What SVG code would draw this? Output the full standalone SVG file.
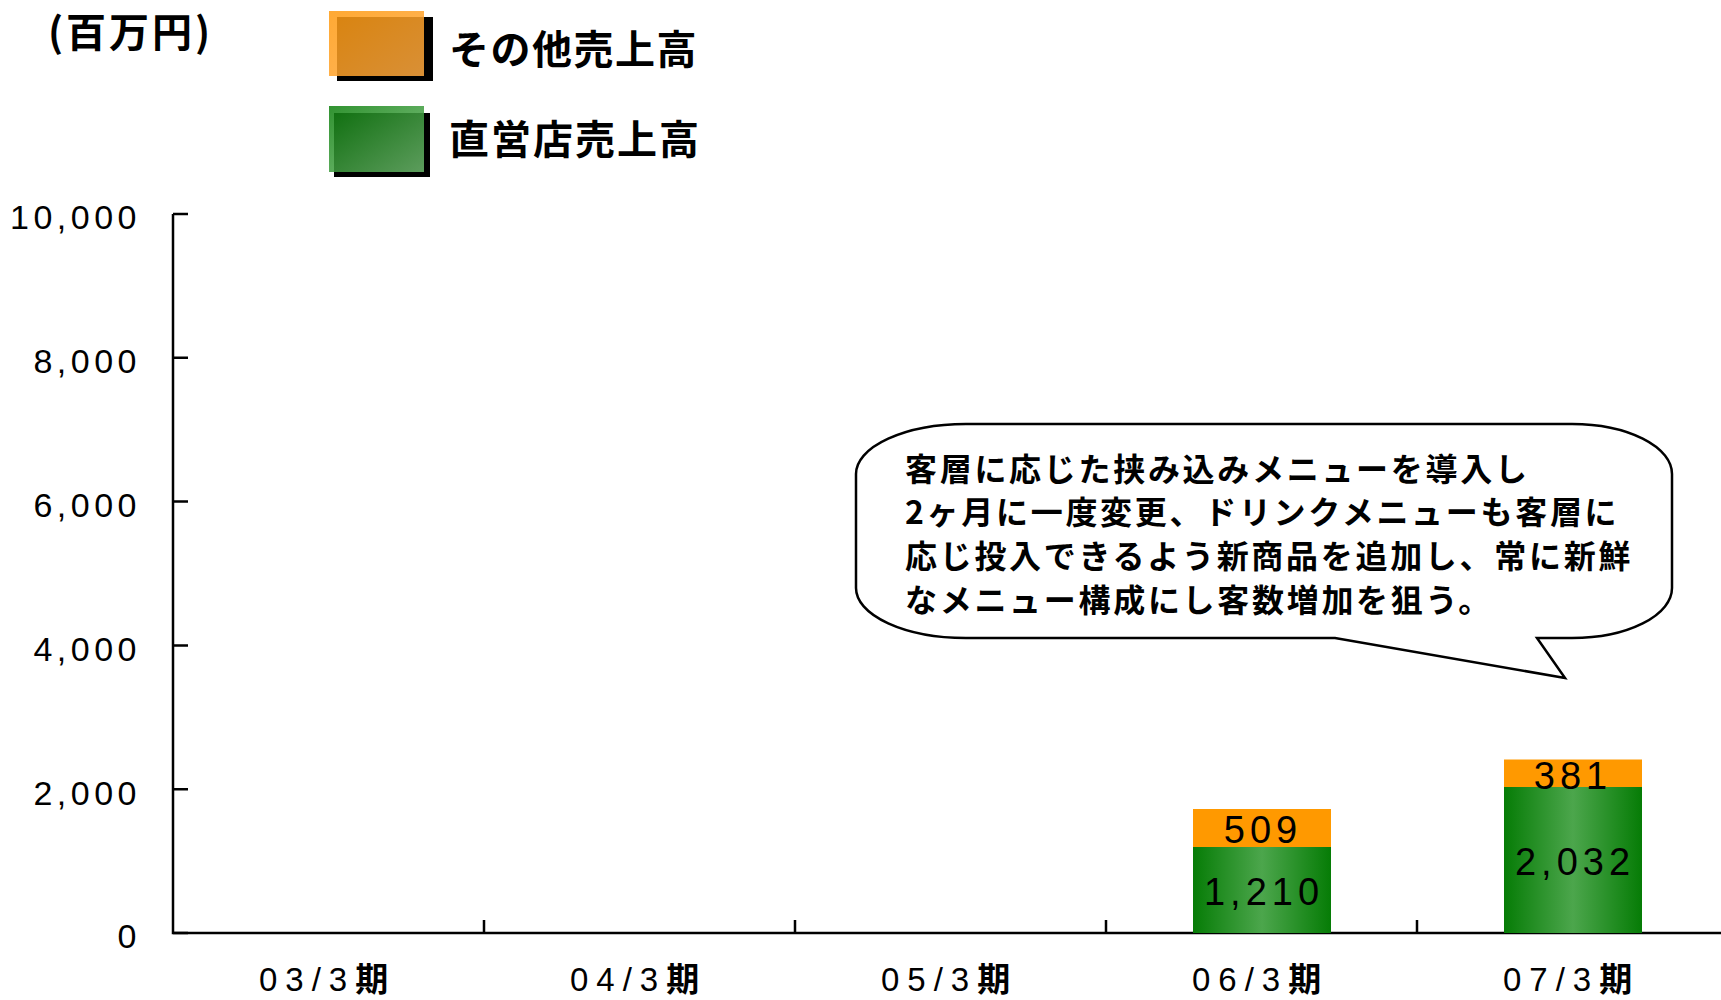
<svg xmlns="http://www.w3.org/2000/svg" width="1721" height="1000" viewBox="0 0 1721 1000">
<style>
.cjk{font-family:"Noto Sans CJK JP","Noto Sans CJK SC",sans-serif;font-weight:bold;fill:#000}
.num{font-family:"Liberation Sans",Arial,sans-serif;fill:#000}
.ylab{font-size:34px;letter-spacing:4.5px;text-anchor:end}
.val{font-size:38px;letter-spacing:5px;text-anchor:middle}
.xlab{font-size:33px;letter-spacing:8px}
.axis{stroke:#000;stroke-width:2.5;fill:none}
.orange{fill:#FF9900}
.green{fill:url(#gbar)}
</style>
<defs>
<linearGradient id="gbar" x1="0" y1="0" x2="1" y2="0">
<stop offset="0" stop-color="#067C06"/>
<stop offset="0.5" stop-color="#4CA64C"/>
<stop offset="1" stop-color="#067C06"/>
</linearGradient>
<linearGradient id="lo" x1="0" y1="0" x2="1" y2="1">
<stop offset="0" stop-color="#FF9A10"/>
<stop offset="1" stop-color="#FFA940"/>
</linearGradient>
<linearGradient id="lg" x1="0" y1="0" x2="1" y2="1">
<stop offset="0" stop-color="#0D800D"/>
<stop offset="1" stop-color="#6DB86D"/>
</linearGradient>
</defs>

<g id="unit">
<text class="cjk" x="48" y="47" font-size="40" letter-spacing="3">(百万円)</text>
</g>

<g id="legend-other">
<rect x="337" y="17" width="96" height="64" fill="#000"/>
<rect x="329" y="11" width="95" height="65" fill="url(#lo)" fill-opacity="0.85"/>
<text class="cjk" x="449" y="64" font-size="40" letter-spacing="1.5">その他売上高</text>
</g>
<g id="legend-direct">
<rect x="334" y="113" width="96" height="64" fill="#000"/>
<rect x="329" y="106" width="95" height="66" fill="url(#lg)" fill-opacity="0.85"/>
<text class="cjk" x="449" y="154" font-size="40" letter-spacing="2">直営店売上高</text>
</g>

<g id="axes">
<path class="axis" d="M173 214 V933 H1721"/>
<path class="axis" d="M173 214 H188 M173 357.8 H188 M173 501.6 H188 M173 645.4 H188 M173 789.2 H188 M173 933 H188"/>
<path class="axis" d="M484 933 V920 M795 933 V920 M1106 933 V920 M1417 933 V920"/>
</g>

<g id="ylabels" class="num ylab">
<text x="141" y="229">10,000</text>
<text x="141" y="373">8,000</text>
<text x="141" y="517">6,000</text>
<text x="141" y="661">4,000</text>
<text x="141" y="805">2,000</text>
<text x="141" y="948">0</text>
</g>

<g id="xlabels" class="num xlab">
<text x="259" y="991">03/3<tspan class="cjk" font-size="33">期</tspan></text>
<text x="570" y="991">04/3<tspan class="cjk" font-size="33">期</tspan></text>
<text x="881" y="991">05/3<tspan class="cjk" font-size="33">期</tspan></text>
<text x="1192" y="991">06/3<tspan class="cjk" font-size="33">期</tspan></text>
<text x="1503" y="991">07/3<tspan class="cjk" font-size="33">期</tspan></text>
</g>

<g id="bar-06">
<rect class="orange" x="1193" y="809" width="138" height="38"/>
<rect class="green" x="1193" y="847" width="138" height="86"/>
<text class="num val" x="1263" y="843">509</text>
<text class="num val" x="1264" y="905">1,210</text>
</g>
<g id="bar-07">
<rect class="orange" x="1504" y="759.5" width="138" height="28"/>
<rect class="green" x="1504" y="787" width="138" height="146"/>
<text class="num val" x="1573" y="789">381</text>
<text class="num val" x="1575" y="875">2,032</text>
</g>

<g id="callout">
<path d="M966 424 H1572 A100 50 0 0 1 1672 474 V588 A100 50 0 0 1 1572 638 H1537 L1565 678 L1335 638 H966 A110 50 0 0 1 856 588 V474 A110 50 0 0 1 966 424 Z" fill="#fff" stroke="#000" stroke-width="2.5"/>
<g class="cjk" font-size="32" letter-spacing="2.7">
<text x="905" y="481">客層に応じた挟み込みメニューを導入し</text>
<text x="905" y="524">2ヶ月に一度変更、ドリンクメニューも客層に</text>
<text x="905" y="568">応じ投入できるよう新商品を追加し、常に新鮮</text>
<text x="905" y="612">なメニュー構成にし客数増加を狙う。</text>
</g>
</g>
</svg>
